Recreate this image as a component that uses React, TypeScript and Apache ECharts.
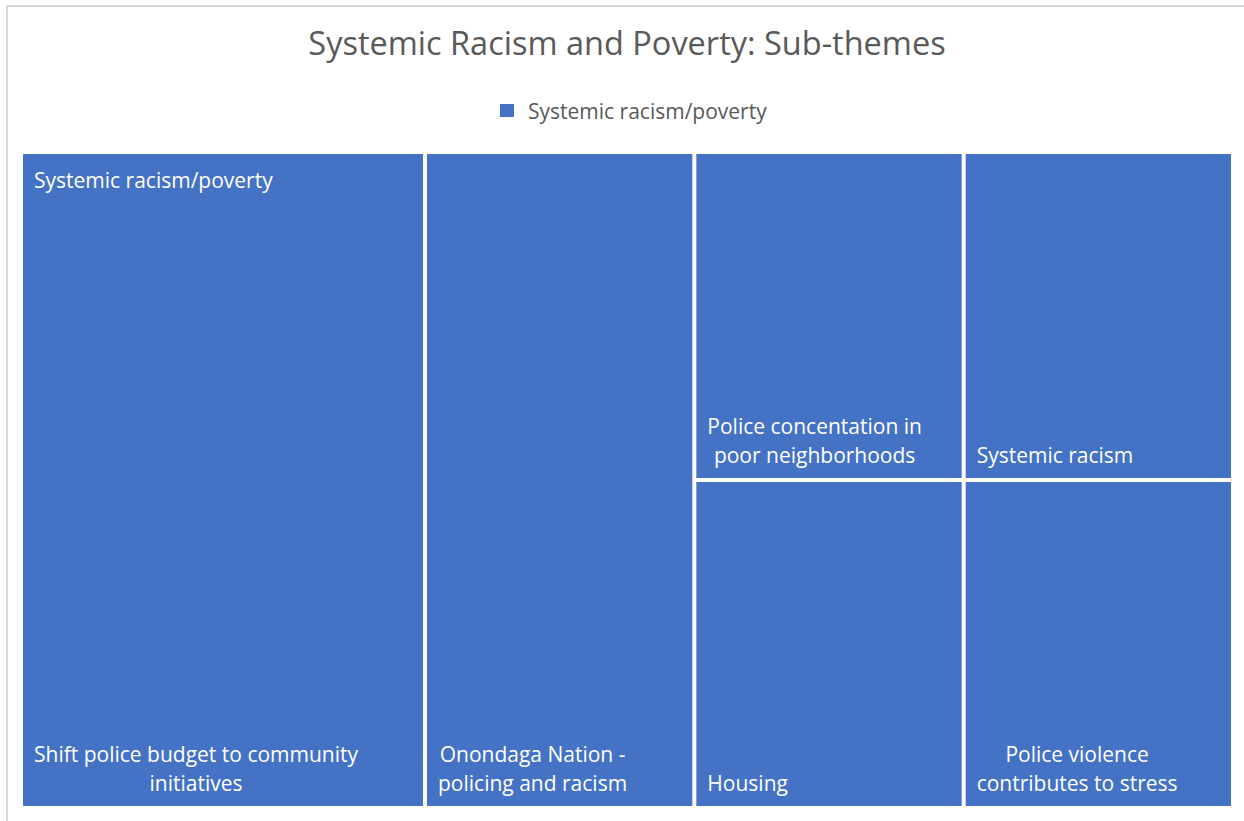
import React, { useEffect, useRef } from "react";
import * as echarts from "echarts";

// ---- data ----
const chartTitle = "Systemic Racism and Poverty: Sub-themes";
const parentTheme = "Systemic racism/poverty";
// sub-theme labels as they are wrapped in the picture
const subThemes = [
  "Shift police budget to community\ninitiatives",
  "Onondaga Nation -\npolicing and racism",
  "Police concentation in\npoor neighborhoods",
  "Systemic racism",
  "Housing",
  "Police violence\ncontributes to stress",
];
const mentions = [3, 2, 1, 1, 1, 1];

const BLUE = "#4472C4";
const GREY = "#595959";
const FONT_FAMILY = "'Open Sans', 'Noto Sans', sans-serif";
const LABEL_SIZE = 21;

let measureCtx: CanvasRenderingContext2D | null = null;
function textWidth(s: string) {
  if (!measureCtx) measureCtx = document.createElement("canvas").getContext("2d");
  if (!measureCtx) return 0;
  measureCtx.font = `${LABEL_SIZE}px ${FONT_FAMILY}`;
  return measureCtx.measureText(s).width;
}

function leaf(i: number) {
  const blockWidth = Math.max(...subThemes[i].split("\n").map(textWidth));
  // lines are centred inside a block that starts at the tile's left inset
  return { name: subThemes[i], value: mentions[i], label: { offset: [blockWidth / 2, 2] } };
}

function buildTree() {
  // grouping only used to reproduce the tile arrangement of the picture
  const upperRow = { name: "", children: [leaf(2), leaf(3)] };
  const lowerRow = { name: "", children: [leaf(4), leaf(5)] };
  return [
    {
      name: parentTheme,
      children: [leaf(0), leaf(1), { name: "", children: [upperRow, lowerRow] }],
    },
  ];
}

export default function App() {
  const ref = useRef<HTMLDivElement>(null);
  useEffect(() => {
    document.body.style.margin = "0";
    const chart = echarts.init(ref.current!, null, { renderer: "svg" });
    const levelStyle = { itemStyle: { borderWidth: 0, gapWidth: 4, color: BLUE, borderColor: "#fff" } };
    chart.setOption({
      animation: false,
      backgroundColor: "#fff",
      title: {
        text: chartTitle,
        left: 622,
        top: 21,
        textAlign: "center",
        textStyle: { fontFamily: FONT_FAMILY, fontSize: 32.5, fontWeight: "normal", color: GREY },
      },
      graphic: [
        {
          type: "rect",
          silent: true,
          shape: { x: 7, y: 6, width: 1300, height: 900 },
          style: { fill: "none", stroke: "#D9D9D9", lineWidth: 2 },
        },
        {
          type: "rect",
          silent: true,
          shape: { x: 500, y: 104, width: 14, height: 13 },
          style: { fill: BLUE },
        },
        {
          type: "text",
          silent: true,
          x: 528,
          y: 111,
          style: {
            text: parentTheme,
            fill: GREY,
            font: `${LABEL_SIZE}px ${FONT_FAMILY}`,
            verticalAlign: "middle",
            align: "left",
          },
        },
        {
          type: "text",
          silent: true,
          z: 100,
          x: 34,
          y: 180,
          style: {
            text: parentTheme,
            fill: "#fff",
            font: `${LABEL_SIZE}px ${FONT_FAMILY}`,
            verticalAlign: "middle",
            align: "left",
          },
        },
      ],
      series: [
        {
          type: "treemap",
          name: parentTheme,
          left: 23,
          top: 154,
          width: 1208,
          height: 652,
          roam: false,
          nodeClick: false,
          sort: false,
          squareRatio: 0.1,
          breadcrumb: { show: false },
          color: [BLUE],
          itemStyle: { borderWidth: 0, gapWidth: 4, color: BLUE, borderColor: "#fff" },
          levels: [levelStyle, levelStyle, levelStyle, levelStyle, levelStyle],
          upperLabel: { show: false },
          label: {
            show: true,
            position: "insideBottomLeft",
            distance: 11,
            padding: 0,
            align: "center",
            color: "#fff",
            fontFamily: FONT_FAMILY,
            fontSize: LABEL_SIZE,
            lineHeight: 29,
          },
          data: buildTree(),
        },
      ],
    });
    return () => chart.dispose();
  }, []);
  return (
    <div
      ref={ref}
      style={{ position: "fixed", left: 0, top: 0, width: 1244, height: 821 }}
    />
  );
}
